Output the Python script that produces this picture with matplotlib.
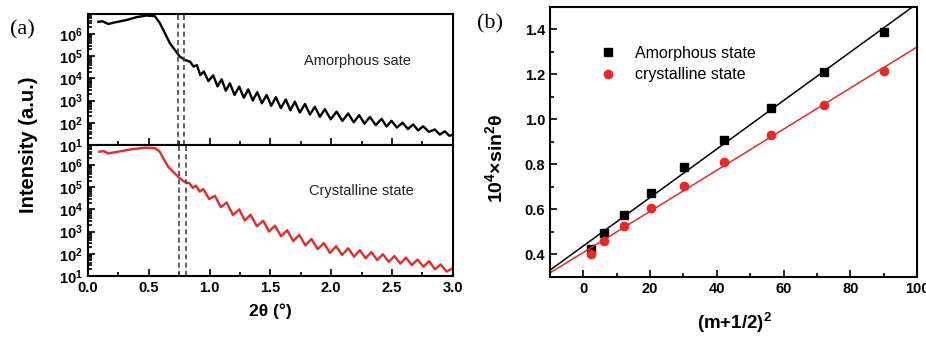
import numpy as np
import matplotlib
matplotlib.use("Agg")
import matplotlib.pyplot as plt
from matplotlib.ticker import LogLocator, NullFormatter, MultipleLocator, FormatStrFormatter

plt.rcParams['font.family'] = ['Liberation Sans', 'DejaVu Sans']
plt.rcParams['font.weight'] = 'bold'
plt.rcParams['mathtext.fontset'] = 'custom'
plt.rcParams['mathtext.rm'] = 'Liberation Sans:bold'
plt.rcParams['mathtext.it'] = 'Liberation Sans:bold'
plt.rcParams['mathtext.bf'] = 'Liberation Sans:bold'
plt.rcParams['mathtext.default'] = 'rm'

# ---------------- (a) reflectivity curves, log10 of intensity ----------------
amor_2theta = [0.085, 0.12, 0.167, 0.22, 0.318, 0.40, 0.482, 0.55, 0.59, 0.633,
               0.674, 0.715, 0.756, 0.797,
               0.84, 0.868, 0.895, 0.924, 0.953, 0.99, 1.03, 1.065, 1.099, 1.133,
               1.167, 1.205, 1.244, 1.281, 1.318, 1.355, 1.392, 1.43, 1.469, 1.507,
               1.545, 1.586, 1.627, 1.664, 1.701, 1.742, 1.784, 1.825, 1.866, 1.907,
               1.948, 1.996, 2.044, 2.092, 2.14, 2.185, 2.23, 2.274, 2.318, 2.366,
               2.414, 2.455, 2.496, 2.54, 2.587, 2.63, 2.674, 2.715, 2.756, 2.804,
               2.852, 2.893, 2.934, 2.97, 3.0]
amor_log = [6.55, 6.57, 6.45, 6.52, 6.63, 6.76, 6.83, 6.80, 6.50, 6.03,
            5.58, 5.28, 4.98, 4.83,
            4.75, 4.53, 4.60, 4.15, 4.31, 3.88, 4.14, 3.64, 3.96, 3.44,
            3.78, 3.255, 3.63, 3.127, 3.505, 3.003, 3.381, 2.877, 3.252, 2.763,
            3.154, 2.661, 3.049, 2.561, 2.954, 2.461, 2.847, 2.375, 2.722, 2.269,
            2.617, 2.155, 2.505, 2.086, 2.42, 2.021, 2.345, 1.96, 2.264, 1.896,
            2.177, 1.834, 2.091, 1.786, 2.007, 1.72, 1.923, 1.658, 1.843, 1.592,
            1.70, 1.47, 1.62, 1.42, 1.45]

cryst_2theta = [0.093, 0.13, 0.167, 0.25, 0.35, 0.468, 0.55, 0.59, 0.619, 0.66,
                0.70, 0.742, 0.783, 0.81,
                0.835, 0.862, 0.89, 0.919, 0.948, 0.996, 1.044, 1.092, 1.14, 1.192,
                1.244, 1.29, 1.337, 1.389, 1.441, 1.489, 1.537, 1.588, 1.638, 1.688,
                1.737, 1.788, 1.838, 1.889, 1.94, 1.99, 2.04, 2.09, 2.14, 2.188,
                2.235, 2.283, 2.33, 2.378, 2.425, 2.473, 2.52, 2.568, 2.615, 2.663,
                2.71, 2.758, 2.805, 2.853, 2.90, 2.95, 3.0]
cryst_log = [6.6, 6.62, 6.52, 6.6, 6.7, 6.78, 6.76, 6.6, 6.30, 5.92,
             5.70, 5.47, 5.28, 5.2,
             5.18, 4.97, 5.07, 4.80, 4.92, 4.47, 4.61, 4.10, 4.31, 3.75,
             4.00, 3.50, 3.76, 3.24, 3.49, 3.00, 3.27, 2.79, 3.06, 2.57,
             2.85, 2.38, 2.67, 2.21, 2.48, 2.04, 2.34, 1.95, 2.25, 1.87,
             2.16, 1.80, 2.08, 1.72, 1.98, 1.64, 1.90, 1.56, 1.83, 1.49,
             1.74, 1.42, 1.67, 1.30, 1.52, 1.20, 1.35]

amor_dash = [0.74, 0.79]
cryst_dash = [0.75, 0.81]

# ---------------- (b) sin^2 theta vs (m+1/2)^2 ----------------
m_sq = [2.25, 6.25, 12.25, 20.25, 30.25, 42.25, 56.25, 72.25, 90.25]
amor_sin2 = [0.425, 0.497, 0.574, 0.673, 0.79, 0.91, 1.051, 1.211, 1.39]
cryst_sin2 = [0.40, 0.458, 0.525, 0.607, 0.705, 0.81, 0.932, 1.066, 1.214]

RED = '#e42a2a'

fig = plt.figure(figsize=(9.26, 3.38), dpi=100)
ax1 = fig.add_axes([0.095, 0.571, 0.394, 0.3876])
ax2 = fig.add_axes([0.095, 0.1834, 0.394, 0.3876])
ax3 = fig.add_axes([0.594, 0.1805, 0.3963, 0.7988])


def style_log(ax):
    ax.set_yscale('log')
    ax.set_xlim(0, 3.0)
    ax.set_ylim(10, 10 ** 6.9)
    ax.yaxis.set_major_locator(LogLocator(base=10, numticks=10))
    ax.yaxis.set_minor_locator(LogLocator(base=10, subs=np.arange(2, 10), numticks=20))
    ax.yaxis.set_minor_formatter(NullFormatter())
    ax.xaxis.set_major_locator(MultipleLocator(0.5))
    ax.xaxis.set_minor_locator(MultipleLocator(0.25))
    ax.xaxis.set_major_formatter(FormatStrFormatter('%.1f'))
    ax.tick_params(which='both', direction='in', top=False, right=False, width=1.2, labelsize=10.5)
    ax.tick_params(which='major', length=5)
    ax.tick_params(which='minor', length=3)
    for s in ax.spines.values():
        s.set_linewidth(1.5)


style_log(ax1)
style_log(ax2)
ax1.tick_params(axis='x', labelbottom=False)

ax1.plot(amor_2theta, 10 ** np.array(amor_log), color='black', lw=1.7)
ax2.plot(cryst_2theta, 10 ** np.array(cryst_log), color=RED, lw=1.7)
for xv in amor_dash:
    ax1.axvline(xv, color='#444444', lw=1.2, ls=(0, (3, 2)))
for xv in cryst_dash:
    ax2.axvline(xv, color='#444444', lw=1.2, ls=(0, (3, 2)))

ax1.text(0.592, 0.641, 'Amorphous sate', transform=ax1.transAxes, fontsize=10.5,
         fontweight='normal', va='center', ha='left', color='#222222')
ax2.text(0.605, 0.649, 'Crystalline state', transform=ax2.transAxes, fontsize=10.5,
         fontweight='normal', va='center', ha='left', color='#222222')

ax1.set_ylabel('Intensity (a.u.)', fontsize=14.5, fontweight='bold')
ax1.yaxis.set_label_coords(-0.138, 0.0)
ax2.set_xlabel('2θ (°)', fontsize=12.5, fontweight='bold')
ax2.xaxis.set_label_coords(0.499, -0.21)

# ---------------- right panel ----------------
ax3.plot(m_sq, amor_sin2, 's', color='black', ms=5.5, label='Amorphous state')
ax3.plot(m_sq, cryst_sin2, 'o', color=RED, ms=6, label='crystalline state')
xfit = np.array([-10, 100])
k_a = np.polyfit(m_sq, amor_sin2, 1)
k_c = np.polyfit(m_sq, cryst_sin2, 1)
ax3.plot(xfit, np.polyval(k_a, xfit), color='black', lw=1.1)
ax3.plot(xfit, np.polyval(k_c, xfit), color=RED, lw=1.1)

ax3.set_xlim(-10, 100)
ax3.set_ylim(0.3, 1.5)
ax3.xaxis.set_major_locator(MultipleLocator(20))
ax3.xaxis.set_minor_locator(MultipleLocator(10))
ax3.yaxis.set_major_locator(MultipleLocator(0.2))
ax3.yaxis.set_minor_locator(MultipleLocator(0.1))
ax3.yaxis.set_major_formatter(FormatStrFormatter('%.1f'))
ax3.tick_params(which='both', direction='in', top=False, right=False, width=1.2, labelsize=10.5)
ax3.tick_params(which='major', length=5)
ax3.tick_params(which='minor', length=3)
for s in ax3.spines.values():
    s.set_linewidth(1.5)

ax3.set_ylabel('10$^{4}$×sin$^{2}$θ', fontsize=14, fontweight='bold')
ax3.yaxis.set_label_coords(-0.12, 0.44)
ax3.set_xlabel('(m+1/2)$^{2}$', fontsize=13.5, fontweight='bold')
ax3.xaxis.set_label_coords(0.504, -0.125)

leg = ax3.legend(loc='center left', bbox_to_anchor=(0.136, 0.789), frameon=False,
                 handlelength=1.0, handletextpad=1.2, labelspacing=0.4,
                 borderpad=0, borderaxespad=0,
                 prop={'size': 11.5, 'weight': 'normal'})

fig.text(22 / 926, 1 - 30 / 338, '(a)', fontsize=16, family='Liberation Serif',
         fontweight='normal', ha='center', va='center')
fig.text(490 / 926, 1 - 24 / 338, '(b)', fontsize=16, family='Liberation Serif',
         fontweight='normal', ha='center', va='center')

fig.savefig('out.png', dpi=100)
